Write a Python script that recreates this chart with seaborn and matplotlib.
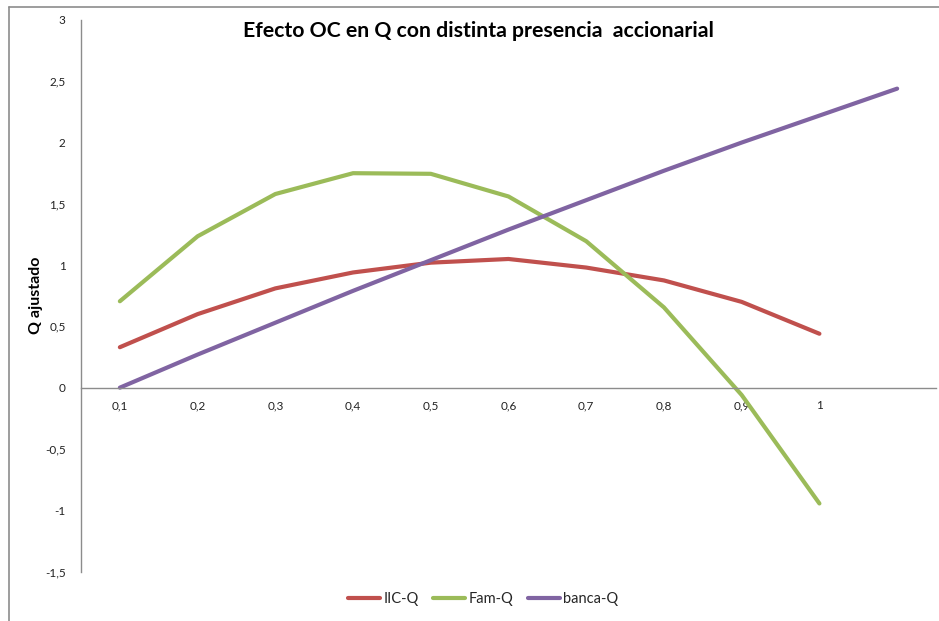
import numpy as np
import pandas as pd
import matplotlib
matplotlib.use("Agg")
import matplotlib.pyplot as plt
import seaborn as sns
from matplotlib.lines import Line2D
from matplotlib.ticker import FixedLocator, FuncFormatter

categories = ["0,1", "0,2", "0,3", "0,4", "0,5", "0,6", "0,7", "0,8", "0,9", "1", ""]
iic_q = [0.33, 0.60, 0.81, 0.94, 1.02, 1.05, 0.98, 0.875, 0.70, 0.44, np.nan]
fam_q = [0.705, 1.235, 1.58, 1.75, 1.745, 1.56, 1.195, 0.655, -0.06, -0.945, np.nan]
banca_q = [0.0, 0.27, 0.53, 0.79, 1.04, 1.29, 1.53, 1.77, 2.00, 2.22, 2.44]
series_names = ["IIC-Q", "Fam-Q", "banca-Q"]
colors = ["#C0504D", "#9BBB59", "#8064A2"]
title = "Efecto OC en Q con distinta presencia  accionarial"
ylabel = "Q ajustado"
yticks = [-1.5, -1, -0.5, 0, 0.5, 1, 1.5, 2, 2.5, 3]

sns.set_theme(style="white")
plt.rcParams["font.family"] = ["Lato", "DejaVu Sans"]

pos = np.arange(len(categories))
df = pd.DataFrame({"pos": np.tile(pos, 3),
                   "value": iic_q + fam_q + banca_q,
                   "serie": np.repeat(series_names, len(categories))})

W, H = 939, 621
fig = plt.figure(figsize=(W / 100, H / 100), dpi=100)
ax = fig.add_axes([81 / W, 1 - 571.5 / H, (936 - 81) / W, (571.5 - 20) / H])

for name, col in zip(series_names, colors):
    sub = df[df["serie"] == name].dropna()
    sns.lineplot(data=sub, x="pos", y="value", ax=ax, color=col, lw=3.0,
                 solid_capstyle="round", solid_joinstyle="round", label=name,
                 legend=False)

ax.set_xlim(-0.5, len(categories) - 0.5)
ax.set_ylim(-1.5, 3)
ax.yaxis.set_major_locator(FixedLocator(yticks))
ax.yaxis.set_major_formatter(FuncFormatter(lambda v, p: f"{v:g}".replace(".", ",")))
ax.set_xticks(pos)
ax.set_xticklabels(categories)

for s in ["top", "right"]:
    ax.spines[s].set_visible(False)
ax.spines["bottom"].set_position(("data", 0))
for s in ["left", "bottom"]:
    ax.spines[s].set_color("#8c8c8c")
    ax.spines[s].set_linewidth(1.0)
ax.tick_params(axis="both", length=0, labelsize=8.5, colors="#222222")
ax.tick_params(axis="x", pad=9)
ax.tick_params(axis="y", pad=11)
ax.set_xlabel("")
ax.set_ylabel(ylabel, fontsize=11.5, fontweight="bold", color="black", labelpad=1.5)
ax.grid(False)

fig.text(478 / W, 1 - 31 / H, title, ha="center", va="center",
         fontsize=15.3, fontweight="bold", color="black")

handles = [Line2D([], [], color=c, lw=3.0, solid_capstyle="round") for c in colors]
fig.legend(handles, series_names, loc="center", bbox_to_anchor=(483 / W, 1 - 599 / H),
           ncol=3, frameon=False, fontsize=10.5, handlelength=2.2, handletextpad=0.2,
           columnspacing=1.0)

fig.add_artist(Line2D([8.5 / W, 8.5 / W], [0, 1 - 6.5 / H], color="#8c8c8c", lw=1.2,
                      transform=fig.transFigure))
fig.add_artist(Line2D([8.5 / W, 1], [1 - 6.5 / H, 1 - 6.5 / H], color="#8c8c8c", lw=1.2,
                      transform=fig.transFigure))

fig.savefig("out.png", dpi=100, facecolor="white")
